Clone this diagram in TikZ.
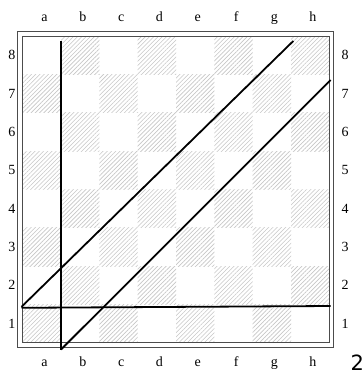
\documentclass[tikz,border=0pt]{standalone}
\usepackage{fontspec}
\setmainfont{Liberation Serif}
\newfontfamily\numfont{DejaVu Sans}
\usetikzlibrary{patterns.meta}
\tikzset{
  lbl/.style={font=\fontsize{14}{14}\selectfont, inner sep=0pt},
  frame/.style={draw=black!70, line width=0.9pt},
  darksq/.style={pattern={Lines[angle=45, distance=3pt, line width=0.6pt]}, pattern color=black!22},
  ln/.style={draw=black, line width=1.8pt},
}
\begin{document}
\begin{tikzpicture}[x=1pt,y=-1pt]
\useasboundingbox (0,0) rectangle (362,373);
\fill[white] (0,0) rectangle (362,373);
% dark squares
\foreach \f in {0,...,7}{
  \foreach \r in {0,...,7}{
    \pgfmathtruncatemacro{\sqpar}{mod(\f+\r,2)}
    \ifnum\sqpar=0
      \path[darksq] ({22.7+38.33*\f},{342.7-38.33*(\r+1)}) rectangle ({22.7+38.33*(\f+1)},{342.7-38.33*\r});
    \fi
  }
}
% frames
\draw[frame] (17.5,31.8) rectangle (333.6,347.6);
\draw[frame] (22.7,36) rectangle (329.3,342.7);
% labels
\foreach \l [count=\i from 0] in {a,b,c,d,e,f,g,h}{
  \node[lbl] (top\l) at ({44.5+38.33*\i},19) {\strut\l};
  \node[lbl] (bot\l) at ({44.5+38.33*\i},364) {\strut\l};
}
\foreach \r in {1,...,8}{
  \node[lbl] (left\r) at (12,{342.7-38.33*(\r-0.5)}) {\r};
  \node[lbl] (right\r) at (345,{342.7-38.33*(\r-0.5)}) {\r};
}
\node[inner sep=0pt, anchor=north west, font=\numfont\fontsize{21}{21}\selectfont] (pg) at (350.5,355) {2};
% lines
\coordinate (vA) at (61,41);
\coordinate (vB) at (61,349.5);
\coordinate (hA) at (21.5,307.8);
\coordinate (hB) at (330.7,306);
\coordinate (dA) at (21.5,306.8);
\coordinate (dB) at (293.3,41);
\coordinate (eA) at (61,349.5);
\coordinate (eB) at (330.7,80);
\draw[ln] (vA) -- (vB);
\draw[ln] (hA) -- (hB);
\draw[ln] (dA) -- (dB);
\draw[ln] (eA) -- (eB);
\end{tikzpicture}
\end{document}
